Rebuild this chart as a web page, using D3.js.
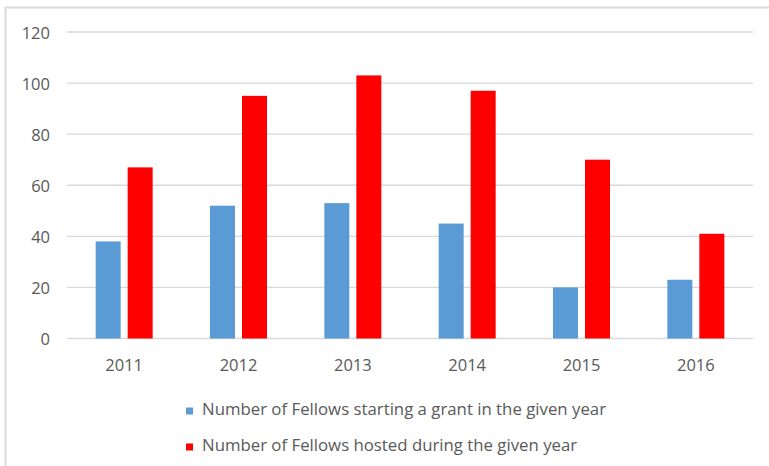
<!doctype html>
<html lang="en">
<head>
  <meta charset="utf-8">
  <title>Fellows chart</title>
  <style>
    * { margin: 0; padding: 0; box-sizing: border-box; }
    body { background: #fff; }
    #container { width: 769px; height: 466px; }
    text { font-family: "Open Sans", Lato, sans-serif; fill: #595959; }
  </style>
</head>
<body>
  <div id="container"></div>
  <script src="https://cdn.jsdelivr.net/npm/d3@7/dist/d3.min.js"></script>
  <script>
    const years = ['2011', '2012', '2013', '2014', '2015', '2016'];
    const starting = [38, 52, 53, 45, 20, 23];
    const hosted = [67, 95, 103, 97, 70, 41];
    const yTicks = [0, 20, 40, 60, 80, 100, 120];
    const seriesNames = [
      'Number of Fellows starting a grant in the given year',
      'Number of Fellows hosted during the given year'
    ];
    const colors = ['#5b9bd5', '#ff0000'];

    const svgDim = {w: 769, h: 466};
    const plot = {l: 67, r: 753, t: 32, b: 338.5};

    const svg = d3.select('#container').append('svg')
      .attr('width', svgDim.w)
      .attr('height', svgDim.h);

    // frame (top + left edge only visible)
    svg.append('path')
      .attr('d', `M5.5,${svgDim.h} V7.5 H${svgDim.w}`)
      .attr('fill', 'none')
      .attr('stroke', '#d9d9d9')
      .attr('stroke-width', 2);

    const x = d3.scaleBand().domain(years).range([plot.l, plot.r]);
    const y = d3.scaleLinear().domain([0, 120]).range([plot.b, plot.t]);

    // gridlines
    svg.append('g').selectAll('line').data(yTicks).enter().append('line')
      .attr('x1', plot.l).attr('x2', plot.r)
      .attr('y1', d => y(d)).attr('y2', d => y(d))
      .attr('stroke', '#d9d9d9').attr('stroke-width', 1.3);

    // y labels
    svg.append('g').selectAll('text').data(yTicks).enter().append('text')
      .attr('x', 50).attr('y', d => y(d) + 6.5)
      .attr('text-anchor', 'end')
      .style('font-size', '16.5px')
      .text(d => d);

    // bars
    const barW = 25, gap = 7;
    const series = [starting, hosted];
    series.forEach((vals, si) => {
      svg.append('g').selectAll('rect').data(years).enter().append('rect')
        .attr('x', (d, i) => {
          const c = x(d) + x.bandwidth() / 2;
          return si === 0 ? c - gap / 2 - barW : c + gap / 2;
        })
        .attr('y', (d, i) => y(vals[i]))
        .attr('width', barW)
        .attr('height', (d, i) => plot.b - y(vals[i]))
        .attr('fill', colors[si]);
    });

    // x labels
    svg.append('g').selectAll('text').data(years).enter().append('text')
      .attr('x', d => x(d) + x.bandwidth() / 2)
      .attr('y', 371)
      .attr('text-anchor', 'middle')
      .style('font-size', '16.5px')
      .text(d => d);

    // legend
    const legend = svg.append('g');
    seriesNames.forEach((name, i) => {
      const ly = 415 + i * 36;
      legend.append('rect')
        .attr('x', 186).attr('y', ly - 7.5)
        .attr('width', 7).attr('height', 7)
        .attr('fill', colors[i]);
      legend.append('text')
        .attr('x', 202).attr('y', ly)
        .style('font-size', '16.8px')
        .text(name);
    });
  </script>
</body>
</html>
